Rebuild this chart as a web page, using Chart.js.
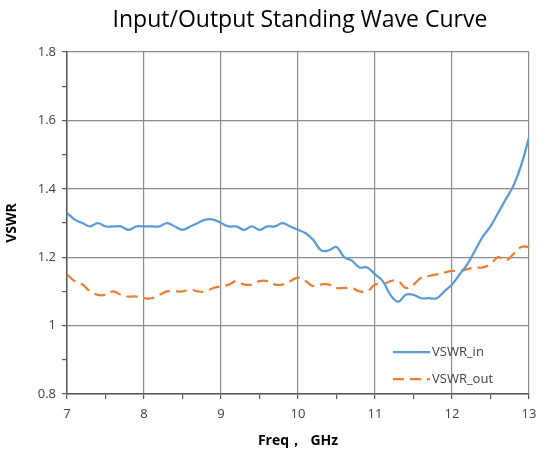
<!DOCTYPE html>
<html>
<head>
<meta charset="utf-8">
<script src="https://cdn.jsdelivr.net/npm/chart.js@4/dist/chart.umd.min.js"></script>
<style>
  html, body { margin: 0; padding: 0; background: #fff; }
  #wrap { width: 545px; height: 453px; }
</style>
</head>
<body>
<div id="wrap"><canvas id="vswrChart" width="545" height="453"></canvas></div>
<script>
// frequency points, GHz
const freqs = [7.0, 7.1, 7.2, 7.3, 7.4, 7.5, 7.6, 7.7, 7.8, 7.9,
    8.0, 8.1, 8.2, 8.3, 8.4, 8.5, 8.6, 8.7, 8.8, 8.9,
    9.0, 9.1, 9.2, 9.3, 9.4, 9.5, 9.6, 9.7, 9.8, 9.9,
    10.0, 10.1, 10.2, 10.3, 10.4, 10.5, 10.6, 10.7, 10.8, 10.9,
    11.0, 11.1, 11.2, 11.3, 11.4, 11.5, 11.6, 11.7, 11.8, 11.9,
    12.0, 12.1, 12.2, 12.3, 12.4, 12.5, 12.6, 12.7, 12.8, 12.9, 13.0];

const vswrIn = [1.33, 1.31, 1.30, 1.29, 1.30, 1.29, 1.29, 1.29, 1.28, 1.29,
    1.29, 1.29, 1.29, 1.30, 1.29, 1.28, 1.29, 1.30, 1.31, 1.31,
    1.30, 1.29, 1.29, 1.28, 1.29, 1.28, 1.29, 1.29, 1.30, 1.29,
    1.28, 1.27, 1.25, 1.22, 1.22, 1.23, 1.20, 1.19, 1.17, 1.17,
    1.15, 1.13, 1.09, 1.07, 1.09, 1.09, 1.08, 1.08, 1.08, 1.10,
    1.12, 1.15, 1.18, 1.22, 1.26, 1.29, 1.33, 1.37, 1.41, 1.47, 1.55];

const vswrOut = [1.15, 1.13, 1.12, 1.10, 1.09, 1.09, 1.10, 1.09, 1.085, 1.085,
    1.08, 1.08, 1.09, 1.10, 1.10, 1.10, 1.105, 1.10, 1.10, 1.11,
    1.115, 1.12, 1.13, 1.12, 1.12, 1.13, 1.13, 1.12, 1.12, 1.13,
    1.14, 1.13, 1.115, 1.12, 1.12, 1.11, 1.11, 1.11, 1.10, 1.10,
    1.12, 1.12, 1.13, 1.13, 1.11, 1.12, 1.14, 1.145, 1.15, 1.155,
    1.16, 1.16, 1.165, 1.17, 1.17, 1.18, 1.20, 1.19, 1.21, 1.23, 1.23];

const seriesNames = ['VSWR_in', 'VSWR_out'];
const chartTitle = 'Input/Output Standing Wave Curve';

const textFont = "'Open Sans', 'Liberation Sans', sans-serif";
const tickColor = '#404040';
const gridColor = '#8c8c8c';
const axisColor = '#595959';

const isMajor = (v, step) => Math.abs(v / step - Math.round(v / step)) < 1e-6;

// title centred over the plot area
const titlePlugin = {
    id: 'plotTitle',
    afterDraw(chart) {
        const c = chart.ctx;
        const area = chart.chartArea;
        c.save();
        c.font = "23px " + textFont;
        c.fillStyle = '#000';
        c.textAlign = 'center';
        c.textBaseline = 'middle';
        c.fillText(chartTitle, (area.left + area.right) / 2 + 2, 20);
        c.restore();
    }
};

// legend drawn inside the plot, bottom right
const insideLegend = {
    id: 'insideLegend',
    afterDatasetsDraw(chart) {
        const c = chart.ctx;
        const x0 = 393, x1 = 430;
        c.save();
        c.font = "13px " + textFont;
        c.textBaseline = 'middle';
        chart.data.datasets.forEach((ds, i) => {
            const y = 352 + i * 27;
            c.strokeStyle = ds.borderColor;
            c.lineWidth = ds.borderWidth;
            c.setLineDash(ds.borderDash || []);
            c.beginPath();
            c.moveTo(x0, y);
            c.lineTo(x1, y);
            c.stroke();
            c.setLineDash([]);
            c.fillStyle = tickColor;
            c.fillText(ds.label, x1 + 2, y);
        });
        c.restore();
    }
};

const ctx = document.getElementById('vswrChart').getContext('2d');
new Chart(ctx, {
    type: 'line',
    data: {
        datasets: [
            {
                label: seriesNames[0],
                data: freqs.map((f, i) => ({ x: f, y: vswrIn[i] })),
                borderColor: '#5b9bd5',
                borderWidth: 2.25,
                pointRadius: 0,
                tension: 0.4,
                fill: false
            },
            {
                label: seriesNames[1],
                data: freqs.map((f, i) => ({ x: f, y: vswrOut[i] })),
                borderColor: '#ed7d31',
                borderWidth: 2.25,
                borderDash: [11, 6],
                pointRadius: 0,
                tension: 0.4,
                fill: false
            }
        ]
    },
    options: {
        responsive: false,
        animation: false,
        layout: { padding: { top: 52, right: 16, left: 0, bottom: 0 } },
        plugins: {
            legend: { display: false },
            title: { display: false },
            tooltip: { enabled: false }
        },
        scales: {
            x: {
                type: 'linear',
                min: 7,
                max: 13,
                afterFit: s => { s.height = 59; },
                ticks: {
                    stepSize: 0.5,
                    autoSkip: false,
                    maxRotation: 0,
                    color: tickColor,
                    font: { size: 13, family: textFont },
                    padding: 7,
                    callback: v => isMajor(v, 1) ? String(Math.round(v)) : ''
                },
                grid: {
                    color: c => isMajor(c.tick.value, 1) ? gridColor : 'rgba(0,0,0,0)',
                    tickColor: axisColor,
                    tickLength: 5,
                    lineWidth: 1.2
                },
                border: { color: axisColor, width: 1.5 },
                title: {
                    display: true,
                    text: 'Freq，  GHz',
                    color: '#000',
                    font: { size: 14, weight: 'bold', family: textFont },
                    padding: { top: 4 }
                }
            },
            y: {
                min: 0.8,
                max: 1.8,
                afterFit: s => { s.width = 67; },
                ticks: {
                    stepSize: 0.1,
                    autoSkip: false,
                    color: tickColor,
                    font: { size: 13, family: textFont },
                    padding: 6,
                    callback: v => isMajor(v, 0.2) ? String(Number(v.toFixed(1))) : ''
                },
                grid: {
                    color: c => isMajor(c.tick.value, 0.2) ? gridColor : 'rgba(0,0,0,0)',
                    tickColor: axisColor,
                    tickLength: 5,
                    lineWidth: 1.2
                },
                border: { color: axisColor, width: 1.5 },
                title: {
                    display: true,
                    text: 'VSWR',
                    color: '#000',
                    font: { size: 14, weight: 'bold', family: textFont },
                    padding: { bottom: 4 }
                }
            }
        }
    },
    plugins: [titlePlugin, insideLegend]
});
</script>
</body>
</html>
